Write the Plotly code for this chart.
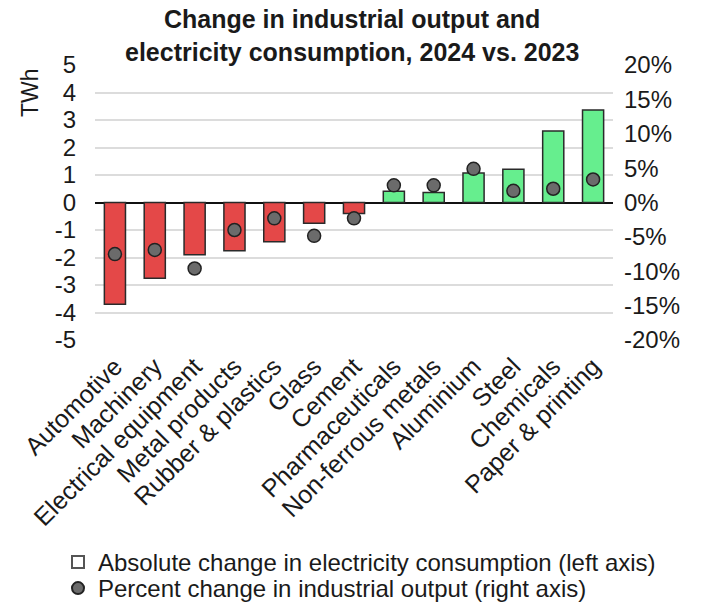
import plotly.graph_objects as go

categories = ["Automotive", "Machinery", "Electrical equipment", "Metal products",
              "Rubber & plastics", "Glass", "Cement", "Pharmaceuticals",
              "Non-ferrous metals", "Aluminium", "Steel", "Chemicals", "Paper & printing"]
electricity_twh = [-3.7, -2.75, -1.9, -1.75, -1.43, -0.75, -0.4, 0.41, 0.36, 1.07, 1.21, 2.6, 3.36]
output_pct = [-7.5, -6.9, -9.6, -4.0, -2.3, -4.85, -2.3, 2.5, 2.5, 4.9, 1.7, 2.0, 3.35]

left_ticks = [-5, -4, -3, -2, -1, 0, 1, 2, 3, 4, 5]
left_labels = ["-5", "-4", "-3", "-2", "-1", "0", "1", "2", "3", "4", "5"]
right_ticks = [-20, -15, -10, -5, 0, 5, 10, 15, 20]
right_labels = ["-20%", "-15%", "-10%", "-5%", "0%", "5%", "10%", "15%", "20%"]

RED = "#E44848"
GREEN = "#66EE8E"
FONT = "Liberation Sans, Arial, sans-serif"

# plot area in pixels
L, R, T, B = 95, 613, 65, 340
W, H = 704, 609
PW, PH = R - L, B - T


def px_x(x):
    return (x - L) / PW


def px_y(y):
    return (B - y) / PH


bar_colors = [RED if v < 0 else GREEN for v in electricity_twh]

fig = go.Figure()
fig.add_trace(go.Bar(
    x=categories, y=electricity_twh, yaxis="y",
    marker=dict(color=bar_colors, line=dict(color="#2a2a2a", width=1.5)),
    width=0.53, showlegend=False))
fig.add_trace(go.Scatter(
    x=categories, y=output_pct, yaxis="y2", mode="markers",
    marker=dict(size=13, color="#6b6b6b", line=dict(color="#222222", width=1.5)),
    showlegend=False))

# legend entries
fig.add_trace(go.Scatter(
    x=[None], y=[None], mode="markers", legend="legend",
    name="Absolute change in electricity consumption (left axis)",
    marker=dict(symbol="square-open", size=12, color="#555555", line=dict(width=1))))
fig.add_trace(go.Scatter(
    x=[None], y=[None], mode="markers", legend="legend2",
    name="Percent change in industrial output (right axis)",
    marker=dict(symbol="circle", size=11, color="#6b6b6b", line=dict(color="#222222", width=1))))

legend_common = dict(xanchor="left", yanchor="top", font=dict(size=24),
                     itemsizing="constant", itemwidth=30, bgcolor="rgba(0,0,0,0)")

fig.update_layout(
    width=W, height=H,
    margin=dict(l=L, r=W - R, t=T, b=H - B, autoexpand=False),
    paper_bgcolor="white", plot_bgcolor="white",
    font=dict(family=FONT, color="#1a1a1a", size=23),
    xaxis=dict(range=[-0.5, len(categories) - 0.5], tickangle=-45,
               tickfont=dict(size=25), showgrid=False,
               showline=False, ticks="", ticklabelstandoff=6, automargin=False),
    yaxis=dict(range=[-5, 5], tickvals=left_ticks, ticktext=left_labels,
               showgrid=True, gridcolor="#dcdcdc", gridwidth=1.5,
               zeroline=True, zerolinecolor="#111111", zerolinewidth=1.5,
               tickfont=dict(size=24), ticks="", ticklabelstandoff=18, automargin=False),
    yaxis2=dict(range=[-20, 20], tickvals=right_ticks, ticktext=right_labels,
                overlaying="y", side="right", showgrid=False, zeroline=False,
                tickfont=dict(size=24), ticks="", ticklabelstandoff=10, automargin=False),
    legend=dict(x=px_x(58), y=px_y(540), **legend_common),
    legend2=dict(x=px_x(58), y=px_y(566), **legend_common),
    annotations=[
        dict(text="<b>Change in industrial output and<br>electricity consumption, 2024 vs. 2023</b>",
             x=px_x(352), y=px_y(3), xref="paper", yref="paper", xanchor="center", yanchor="top",
             showarrow=False, font=dict(size=25, color="#1a1a1a")),
        dict(text="TWh", x=px_x(30), y=px_y(93), xref="paper", yref="paper",
             showarrow=False, textangle=-90, xanchor="center", yanchor="middle",
             font=dict(size=23)),
    ],
    bargap=0.47,
)

fig.write_html("out.html")
